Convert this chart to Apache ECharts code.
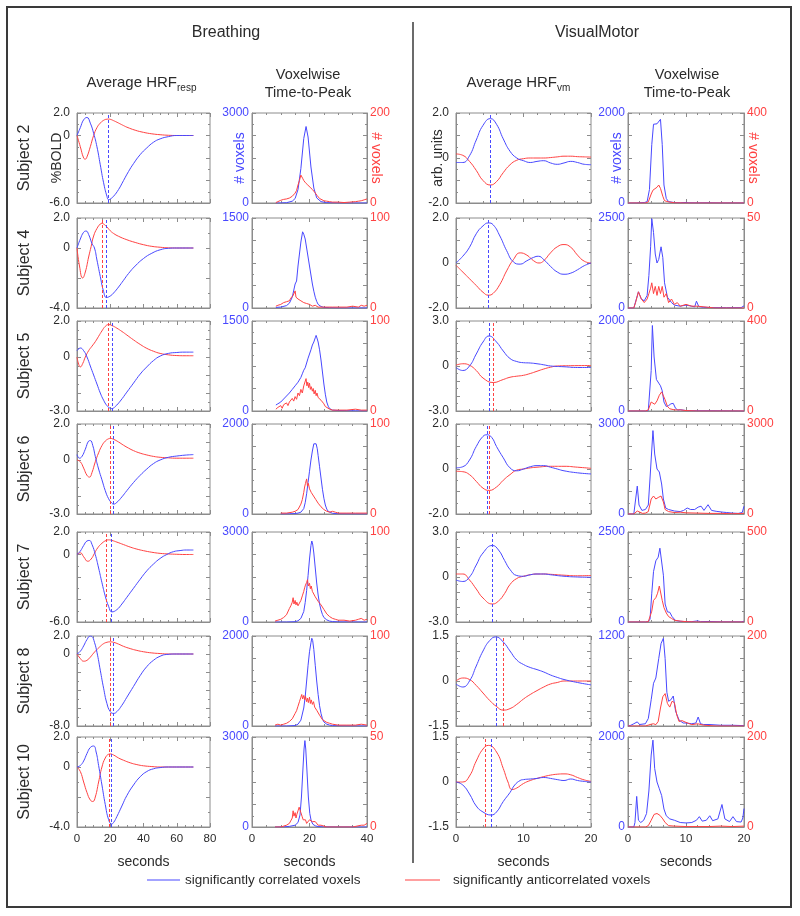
<!DOCTYPE html>
<html><head><meta charset="utf-8">
<script src="https://cdn.jsdelivr.net/npm/echarts@6/dist/echarts.min.js"></script>
<style>html,body{margin:0;padding:0;background:#fff}#c{width:800px;height:916px}</style>
</head><body><div id="c"></div><script>
// ---------- DATA ----------
const subjects = ['Subject 2','Subject 4','Subject 5','Subject 6','Subject 7','Subject 8','Subject 10'];
const xTicksResp = [0,20,40,60,80];
const xTicksTtpResp = [0,20,40];
const xTicksVm = [0,10,20];

// Breathing: Average HRF_resp (seconds, %BOLD)
const respBlue_S2 = [[0,0],[2,0.7],[4,1.4],[6,1.6],[8,1.1],[10,0.2],[12,-1.0],[14,-2.6],[16,-4.2],[18,-5.4],[19,-5.7],[20,-5.65],[22,-5.4],[25,-4.8],[28,-4.0],[31,-3.2],[34,-2.5],[38,-1.7],[42,-1.1],[46,-0.6],[50,-0.3],[55,-0.1],[60,0],[65,0],[70,0]];
const respRed_S2 = [[0,0],[2,-1.0],[4,-2.0],[5,-2.1],[6,-1.9],[8,-1.0],[10,0.0],[12,0.7],[14,1.1],[16,1.35],[18,1.45],[19,1.46],[20,1.44],[22,1.32],[24,1.18],[26,1.03],[28,0.88],[30,0.74],[35,0.47],[40,0.28],[45,0.15],[50,0.07],[55,0.02],[60,0],[65,0],[70,0]];
const respBlue_S4 = [[0,0],[2,0.6],[4,1.05],[5.5,1.13],[7,0.9],[9,0.3],[10.5,0],[12,-0.8],[14,-1.9],[16,-2.9],[17.7,-3.3],[20,-3.2],[22,-3.0],[25,-2.6],[28,-2.15],[31,-1.7],[35,-1.2],[40,-0.7],[45,-0.35],[50,-0.12],[55,-0.02],[60,0],[65,0],[70,0]];
const respRed_S4 = [[0,0],[1.5,-1.2],[3.4,-2.0],[5,-1.6],[7,-0.6],[8.5,0.1],[10,0.8],[12,1.3],[14,1.6],[15,1.65],[16,1.6],[18,1.4],[20,1.15],[22,0.97],[25,0.78],[30,0.55],[35,0.37],[40,0.22],[45,0.11],[50,0.05],[55,0.01],[60,0],[70,0]];
const respBlue_S5 = [[0,0.35],[2,0.5],[4,0.35],[6,0.0],[8,-0.5],[10,-1.0],[12,-1.5],[14,-2.0],[16,-2.4],[18,-2.7],[20,-2.85],[21,-2.87],[23,-2.75],[26,-2.45],[30,-1.95],[34,-1.45],[38,-0.95],[42,-0.55],[46,-0.2],[50,0.05],[55,0.2],[60,0.25],[65,0.27],[70,0.27]];
const respRed_S5 = [[0,0],[1,-0.4],[2,-0.55],[3.5,-0.35],[5,0.0],[7,0.35],[9,0.6],[11,0.85],[13,1.15],[15,1.45],[17,1.7],[19,1.8],[21,1.75],[24,1.6],[27,1.42],[30,1.22],[34,0.95],[38,0.7],[42,0.48],[46,0.32],[50,0.2],[55,0.12],[60,0.08],[65,0.07],[70,0.07]];
const respBlue_S6 = [[0,0.3],[1.5,0.1],[3,0.2],[5,0.6],[7,1.05],[8,1.08],[9.5,0.8],[11,0.2],[13,-0.5],[15,-1.1],[17,-1.7],[19,-2.15],[21,-2.4],[22,-2.45],[24,-2.35],[27,-2.05],[30,-1.7],[34,-1.25],[38,-0.85],[42,-0.5],[46,-0.2],[50,0.0],[55,0.15],[60,0.22],[65,0.27],[70,0.3]];
const respRed_S6 = [[0,0],[2,-0.1],[4,-0.45],[6,-0.85],[7.5,-0.95],[9,-0.7],[11,-0.1],[13,0.4],[15,0.8],[17,1.05],[19,1.18],[20,1.2],[22,1.15],[25,1.0],[28,0.82],[31,0.66],[34,0.52],[38,0.38],[42,0.28],[46,0.2],[50,0.15],[55,0.12],[60,0.1],[65,0.1],[70,0.1]];
const respBlue_S7 = [[0,0],[2,0.3],[4,0.8],[6,1.2],[7.4,1.25],[9,0.9],[11,0.0],[13,-1.2],[15,-2.5],[17,-3.7],[19,-4.6],[21,-5.1],[24,-4.9],[27,-4.4],[30,-3.8],[34,-3.0],[38,-2.2],[42,-1.45],[46,-0.85],[50,-0.35],[54,0.0],[58,0.25],[62,0.35],[66,0.4],[70,0.4]];
const respRed_S7 = [[0,0],[2,0.15],[4,-0.2],[6.5,-0.6],[8.5,-0.4],[10.5,0.1],[12.5,0.6],[15,1.0],[17.5,1.25],[19,1.3],[21,1.25],[24,1.1],[28,0.88],[32,0.66],[36,0.48],[40,0.34],[45,0.2],[50,0.1],[55,0.05],[60,0.02],[65,0],[70,0]];
const respBlue_S8 = [[0,0],[2,0.3],[4,0.9],[6,1.6],[8,2.0],[9,1.95],[10.5,1.3],[12,0.2],[14,-1.8],[16,-3.8],[18,-5.5],[20,-6.4],[22,-6.6],[24,-6.4],[27,-5.7],[30,-4.8],[34,-3.6],[38,-2.4],[42,-1.4],[46,-0.7],[50,-0.25],[54,-0.05],[60,0],[65,0],[70,0]];
const respRed_S8 = [[0,0],[2,-0.5],[4,-0.8],[6,-0.7],[8,-0.35],[10,0.1],[12,0.5],[14,0.85],[16,1.15],[18,1.3],[20,1.35],[22,1.3],[25,1.1],[28,0.85],[32,0.6],[36,0.4],[40,0.25],[45,0.12],[50,0.05],[55,0],[60,0],[70,0]];
const respBlue_S10 = [[0,0],[2,0.1],[4,0.4],[6,0.9],[8,1.3],[10,1.4],[11.5,1.0],[13,0.1],[15,-1.2],[17,-2.5],[19,-3.5],[20.8,-3.8],[22,-3.7],[24,-3.3],[27,-2.6],[30,-1.9],[34,-1.2],[38,-0.65],[42,-0.3],[46,-0.12],[50,-0.04],[55,0],[60,0],[70,0]];
const respRed_S10 = [[0,0],[2,-0.3],[4,-1.0],[6,-1.7],[8,-2.2],[9.5,-2.3],[11,-2.0],[13,-1.0],[15,0.0],[17,0.6],[19,0.85],[20,0.87],[22,0.8],[25,0.6],[28,0.45],[32,0.28],[36,0.16],[40,0.08],[45,0.03],[50,0],[60,0],[70,0]];

// Breathing: voxelwise time-to-peak (seconds, # voxels)
const respTtpBlue_S2 = [[8.3,0],[10,2],[12,10],[14,60],[15,150],[16,450],[17,1150],[18,2150],[18.8,2550],[19.5,2200],[20.5,1200],[21.5,500],[22.5,170],[24,45],[26,12],[30,2],[35,1],[40,1]];
const respTtpRed_S2 = [[8.3,1],[9,3],[10,6],[10.5,3],[11,8],[11.5,4],[12,9],[12.5,6],[13,11],[13.5,9],[14,15],[14.5,13],[15,22],[15.5,28],[16,40],[16.5,50],[17,62],[17.3,58],[17.6,55],[18,50],[18.3,52],[18.6,45],[19,47],[19.4,40],[19.8,42],[20.2,35],[20.6,37],[21,30],[21.4,31],[21.8,24],[22.2,22],[22.6,17],[23,14],[23.5,10],[24,8],[25,5],[26,4],[27,3],[28,2],[30,2],[32,1],[34,2],[36,3],[37,4],[38,5],[39,7],[40,9]];
const respTtpBlue_S4 = [[8.3,10],[10,15],[12,40],[13,80],[14,180],[15,400],[15.5,450],[16,700],[16.5,900],[17,1100],[17.6,1270],[18,1230],[18.5,1150],[19,1000],[19.5,850],[20,700],[20.5,550],[21,400],[21.5,280],[22,180],[22.5,110],[23,60],[24,25],[25,10],[27,5],[30,2],[35,1],[40,1]];
const respTtpRed_S4 = [[8.3,2],[9,3],[10,4],[11,6],[12,7],[12.5,9],[13,8],[13.5,11],[14,10],[14.3,14],[14.6,12],[15,19],[15.3,12],[15.6,14],[16,10],[16.5,11],[17,8],[17.5,7],[18,6],[18.5,5],[19,5],[19.5,3],[20,4],[21,2],[22,3],[23,1],[25,1],[28,1],[30,1],[33,1],[35,2],[37,1],[38,3],[39,2],[40,3]];
const respTtpBlue_S5 = [[8.3,100],[9,120],[10,150],[11,200],[12,250],[13,300],[14,360],[15,420],[16,480],[17,560],[17.5,620],[18,680],[18.5,720],[19,800],[19.5,880],[20,950],[20.5,1020],[21,1100],[21.5,1150],[22,1220],[22.3,1260],[22.7,1200],[23,1150],[23.5,1020],[24,850],[24.5,650],[25,450],[25.5,280],[26,150],[26.5,80],[27,40],[28,15],[30,8],[33,5],[36,3],[40,2]];
const respTtpRed_S5 = [[8.3,2],[9,4],[9.5,2],[10,6],[10.5,3],[11,7],[11.5,5],[12,9],[12.5,6],[13,10],[13.5,8],[14,14],[14.5,11],[15,16],[15.5,13],[16,20],[16.5,17],[17,24],[17.5,20],[18,28],[18.5,30],[18.8,36],[19.1,28],[19.4,32],[19.7,26],[20,31],[20.3,24],[20.6,27],[21,22],[21.3,25],[21.6,19],[22,23],[22.3,17],[22.6,20],[23,15],[23.5,16],[24,12],[24.5,10],[25,8],[25.5,5],[26,4],[27,2],[28,1],[30,1],[33,1],[36,2],[38,1],[40,1]];
const respTtpBlue_S6 = [[10,0],[13,5],[15,10],[16,20],[17,40],[18,120],[18.5,250],[19,450],[19.5,700],[20,950],[20.5,1200],[21,1400],[21.5,1560],[21.9,1580],[22.3,1560],[22.7,1450],[23,1300],[23.5,1050],[24,800],[24.5,550],[25,350],[25.5,200],[26,110],[26.5,60],[27,35],[28,15],[30,5],[35,2],[40,1]];
const respTtpRed_S6 = [[10,1],[12,1],[14,2],[15,3],[16,5],[16.5,7],[17,11],[17.5,16],[18,24],[18.3,30],[18.6,34],[19,39],[19.3,31],[19.6,34],[20,28],[20.3,30],[20.6,24],[21,25],[21.4,20],[21.8,21],[22.2,16],[22.6,15],[23,12],[23.5,10],[24,8],[24.5,6],[25,5],[26,3],[27,2],[28,3],[29,2],[30,1],[33,1],[36,1],[40,1]];
const respTtpBlue_S7 = [[8,0],[12,0],[15,10],[16,40],[17,120],[18,350],[18.5,650],[19,1050],[19.5,1550],[20,2100],[20.5,2550],[20.8,2700],[21.1,2600],[21.5,2300],[22,1800],[22.5,1300],[23,900],[23.5,600],[24,400],[24.5,250],[25,150],[26,70],[27,30],[28,15],[30,5],[35,2],[40,1]];
const respTtpRed_S7 = [[8,1],[9,2],[10,3],[10.5,2],[11,5],[11.5,4],[12,8],[12.5,10],[13,15],[13.5,18],[14,22],[14.3,27],[14.6,20],[15,24],[15.3,19],[15.6,22],[16,18],[16.5,21],[17,24],[17.5,29],[18,34],[18.3,38],[18.6,41],[19,44],[19.3,47],[19.6,40],[20,43],[20.3,37],[20.6,40],[21,34],[21.5,32],[22,28],[22.5,27],[23,23],[23.5,24],[24,19],[24.5,18],[25,14],[25.5,12],[26,9],[26.5,7],[27,6],[28,4],[29,3],[30,2],[32,2],[34,1],[36,2],[37,3],[38,4],[39,2],[40,3]];
const respTtpBlue_S8 = [[8,0],[12,0],[15,10],[16,40],[17,130],[18,400],[18.5,650],[19,1000],[19.5,1350],[20,1650],[20.5,1850],[20.8,1950],[21.1,1900],[21.5,1700],[22,1350],[22.5,1000],[23,700],[23.5,450],[24,280],[24.5,160],[25,90],[26,40],[27,20],[28,10],[30,5],[35,2],[40,1]];
const respTtpRed_S8 = [[8,1],[9,2],[10,1],[11,2],[12,3],[13,5],[14,8],[14.5,10],[15,14],[15.5,17],[16,22],[16.5,27],[17,32],[17.3,35],[17.6,30],[18,34],[18.3,29],[18.6,33],[19,27],[19.3,31],[19.6,26],[20,32],[20.3,25],[20.6,29],[21,24],[21.4,27],[21.8,21],[22.2,22],[22.6,17],[23,15],[23.5,12],[24,10],[24.5,7],[25,6],[26,4],[27,3],[28,2],[30,1],[33,1],[36,1],[38,2],[40,1]];
const respTtpBlue_S10 = [[8,0],[11,5],[13,20],[15,60],[16,150],[16.7,400],[17.2,1000],[17.7,1900],[18.1,2600],[18.4,2880],[18.7,2600],[19.1,1900],[19.6,1000],[20.1,450],[20.6,200],[21.2,90],[22,40],[23,15],[25,5],[30,2],[40,1]];
const respTtpRed_S10 = [[8,0],[10,0],[12,1],[13,2],[13.5,3],[14,5],[14.3,9],[14.6,6],[15,8],[15.3,5],[15.6,7],[16,9],[16.4,11],[16.7,12],[17,8],[17.4,6],[17.8,4],[18.2,3],[18.6,4],[19,2],[19.5,3],[20,4],[20.5,5],[21,3],[21.5,4],[22,3],[22.5,2],[23,1],[24,1],[26,0],[30,0],[35,0],[38,1],[39,1],[40,2]];

// VisualMotor: Average HRF_vm (seconds, arb. units)
const vmBlue_S2 = [[0,-0.2],[1,-0.2],[2,0.1],[3,0.8],[4,1.45],[5.1,1.75],[6,1.5],[7,0.85],[8,0.3],[9,0.0],[10,-0.12],[11,-0.2],[12,-0.15],[13,-0.12],[14,-0.22],[15,-0.28],[16,-0.22],[17,-0.15],[18,-0.2],[19,-0.28],[20,-0.3]];
const vmRed_S2 = [[0,0.18],[1,0.12],[2,-0.15],[3,-0.55],[4,-1.0],[5.1,-1.2],[6,-1.05],[7,-0.65],[8,-0.3],[9,-0.1],[10,-0.03],[11,0.0],[12,0.0],[13,0.0],[14,0.02],[15,0.05],[16,0.08],[17,0.08],[18,0.06],[19,0.05],[20,0.04]];
const vmBlue_S4 = [[0,0],[1,0.3],[2,0.7],[3,1.3],[4,1.65],[4.8,1.78],[5.5,1.7],[6.5,1.2],[7.5,0.55],[8.5,0.05],[9.5,-0.05],[10.5,0.1],[11.5,0.25],[12.2,0.3],[13,0.15],[14,-0.15],[15,-0.4],[16,-0.5],[17,-0.45],[18,-0.3],[19,-0.12],[20,0.0]];
const vmRed_S4 = [[0,-0.1],[1,-0.4],[2,-0.7],[3,-1.0],[4,-1.3],[4.8,-1.43],[5.5,-1.35],[6.5,-0.95],[7.5,-0.35],[8.5,0.15],[9.5,0.45],[10.5,0.35],[11.5,0.1],[12.3,0.0],[13,0.1],[14,0.45],[15,0.72],[16,0.82],[17,0.7],[18,0.35],[19,0.08],[20,0.0]];
const vmBlue_S5 = [[0,-0.1],[1,-0.3],[2,0.0],[3,0.8],[4,1.6],[4.9,2.0],[6,1.6],[7,1.0],[8,0.5],[9,0.3],[10,0.22],[11,0.2],[12,0.15],[13,0.08],[14,0.0],[16,-0.05],[18,-0.1],[20,-0.1]];
const vmRed_S5 = [[0,0.05],[1,0.15],[2,0.05],[3,-0.3],[4,-0.8],[5.5,-1.1],[7,-0.9],[8,-0.75],[9,-0.68],[10,-0.62],[11,-0.5],[12,-0.35],[13,-0.2],[14,-0.08],[15,0.0],[17,0.02],[20,0.03]];
const vmBlue_S6 = [[0,0.05],[1,0.1],[2,0.4],[3,1.0],[4,1.45],[4.6,1.52],[5.3,1.4],[6,1.0],[7,0.5],[8,0.05],[9,-0.08],[10,0.0],[11,0.1],[12,0.15],[13,0.15],[14,0.08],[15,0.0],[16,-0.08],[18,-0.17],[20,-0.22]];
const vmRed_S6 = [[0,-0.1],[1,-0.12],[2,-0.25],[3,-0.55],[4,-0.85],[4.9,-0.95],[6,-0.8],[7,-0.5],[8,-0.25],[9,-0.05],[10,0.0],[11,0.05],[12,0.08],[14,0.12],[16,0.12],[18,0.08],[20,0.03]];
const vmBlue_S7 = [[0,-0.2],[1,-0.3],[2,0.0],[3,0.8],[4,1.6],[5.4,2.1],[6.3,1.8],[7.2,1.1],[8,0.5],[9,0.1],[10,0.05],[11,0.15],[12,0.2],[13,0.2],[14,0.15],[16,0.05],[18,0.0],[20,-0.02]];
const vmRed_S7 = [[0,0.2],[1,0.2],[2,-0.2],[3,-0.8],[4,-1.4],[5.4,-1.8],[6.3,-1.6],[7.2,-1.1],[8,-0.5],[9,-0.1],[10,0.05],[11,0.15],[12,0.2],[13,0.2],[14,0.18],[16,0.12],[18,0.08],[20,0.1]];
const vmBlue_S8 = [[0,-0.1],[1,-0.2],[2,0.0],[3,0.5],[4,1.0],[5,1.35],[5.9,1.47],[7,1.3],[8,1.0],[9,0.7],[10,0.55],[11,0.45],[12,0.38],[13,0.3],[14,0.2],[15,0.12],[16,0.05],[18,-0.05],[20,-0.13]];
const vmRed_S8 = [[0,0.0],[1,0.1],[2,0.05],[3,-0.15],[4,-0.4],[5,-0.65],[6,-0.85],[7,-0.97],[8,-0.92],[9,-0.78],[10,-0.6],[11,-0.45],[12,-0.32],[13,-0.2],[14,-0.1],[15,-0.05],[16,0.0],[18,0.0],[20,0.0]];
const vmBlue_S10 = [[0,0.0],[1,-0.1],[2,-0.4],[3,-0.8],[4,-1.0],[5.2,-1.1],[6,-1.0],[7,-0.65],[8,-0.35],[8.7,-0.1],[9.5,0.05],[10,0.08],[11,0.1],[12,0.12],[13,0.15],[14,0.12],[15,0.08],[16,0.05],[17,0.1],[18,0.05],[19,0.02],[20,0.0]];
const vmRed_S10 = [[0,0.0],[1,0.0],[2,0.2],[3,0.7],[4,1.1],[4.8,1.22],[6,1.0],[7,0.45],[7.7,0.0],[8.3,-0.25],[9,-0.2],[10,-0.05],[11,0.05],[12,0.12],[13,0.18],[14,0.23],[15,0.26],[16,0.27],[17,0.24],[18,0.15],[19,0.07],[20,0.02]];

// VisualMotor: voxelwise time-to-peak
const vmTtpBlue_S2 = [[0,0],[1.5,0],[2,5],[2.3,20],[2.8,10],[3.3,30],[3.7,300],[4.1,1300],[4.4,1750],[4.7,1720],[5.0,1760],[5.3,1740],[5.6,1860],[5.9,1300],[6.2,400],[6.6,100],[7,30],[8,10],[9,5],[10,12],[10.5,5],[12,3],[14,5],[16,2],[18,2],[20,2]];
const vmTtpRed_S2 = [[0,0],[3,0],[3.5,5],[4,40],[4.3,57],[4.6,50],[5.0,70],[5.3,80],[5.6,65],[6,30],[6.3,10],[7,5],[8,1],[10,0],[20,0]];
const vmTtpBlue_S4 = [[0,0],[1,0],[1.3,50],[1.8,450],[2.3,250],[2.8,200],[3.3,350],[3.6,900],[3.9,1700],[4.1,2480],[4.4,2100],[4.7,1500],[5.0,1250],[5.3,1350],[5.7,1700],[6.0,1400],[6.3,700],[6.8,300],[7.5,150],[8,80],[9,50],[10,80],[11,50],[11.5,30],[11.8,190],[12.2,40],[13,20],[15,10],[17,8],[19.5,10],[20,60]];
const vmTtpRed_S4 = [[0,0],[1,0],[1.3,3],[1.8,9],[2.3,5],[2.8,3],[3.3,5],[3.6,8],[3.9,11],[4.1,14],[4.4,8],[4.7,12],[5.0,7],[5.3,12],[5.6,8],[5.9,12],[6.2,6],[6.6,8],[7,3],[7.5,5],[8,2],[8.5,3],[9,1],[10,2],[11,1],[12,1],[15,0],[20,0]];
const vmTtpBlue_S5 = [[0,0],[3,0],[3.5,10],[3.8,50],[4.0,900],[4.2,1900],[4.5,1200],[4.9,700],[5.3,620],[5.6,560],[5.9,450],[6.2,200],[6.6,100],[7.0,120],[7.4,160],[7.8,170],[8.2,60],[8.6,20],[9,30],[10,10],[12,5],[15,5],[20,0]];
const vmTtpRed_S5 = [[0,0],[3,0],[3.5,5],[4.0,40],[4.3,35],[4.6,30],[5.0,45],[5.4,70],[5.8,85],[6.1,80],[6.4,50],[6.8,20],[7.2,10],[8,5],[9,5],[10,2],[12,0],[20,0]];
const vmTtpBlue_S6 = [[0,0],[1,0],[1.3,50],[1.6,930],[1.9,300],[2.4,120],[3,150],[3.5,300],[3.8,1200],[4.3,2780],[4.6,2000],[5.0,1500],[5.4,1400],[5.8,1000],[6.1,500],[6.5,200],[7,150],[8,100],[9,80],[9.6,120],[10.2,200],[10.8,150],[11.5,150],[12.1,230],[12.6,260],[13.1,120],[13.8,310],[14.4,120],[15.2,90],[16.4,60],[17,50],[18,30],[19,20],[19.7,50],[20,260]];
const vmTtpRed_S6 = [[0,0],[1,0],[1.3,20],[1.6,100],[1.9,50],[2.5,20],[3,30],[3.5,80],[4.0,500],[4.4,600],[4.8,500],[5.2,550],[5.7,600],[6.1,400],[6.4,150],[7,80],[8,50],[9,60],[10,40],[12,30],[14,20],[16,20],[18,10],[20,20]];
const vmTtpBlue_S7 = [[0,0],[3,0],[3.5,10],[3.8,80],[4.1,800],[4.4,1400],[4.8,1700],[5.2,1800],[5.5,2050],[5.8,2100],[6.1,1300],[6.4,500],[6.8,280],[7.2,270],[7.6,150],[8.2,40],[9,20],[10,10],[11,10],[12,30],[12.5,10],[14,15],[16,5],[18,5],[19.5,5],[20,20]];
const vmTtpRed_S7 = [[0,0],[3,0],[3.5,2],[3.8,10],[4.1,60],[4.4,120],[4.8,135],[5.1,160],[5.4,200],[5.6,210],[5.9,120],[6.2,80],[6.6,50],[7.0,30],[7.5,20],[8,10],[9,5],[10,2],[12,0],[20,0]];
const vmTtpBlue_S8 = [[0,0],[0.5,10],[1.0,30],[1.6,55],[2,20],[3,30],[3.5,100],[4.0,350],[4.4,570],[4.8,640],[5.3,900],[5.7,1100],[6.1,1170],[6.4,900],[6.7,450],[7.0,330],[7.4,350],[7.8,400],[8.2,200],[8.8,80],[9.5,40],[10,40],[11,30],[11.7,40],[12.1,120],[12.5,30],[13,20],[14,20],[15,15],[16,10],[18,10],[20,5]];
const vmTtpRed_S8 = [[0,0],[3,0],[3.5,2],[4.0,4],[4.4,5],[4.8,3],[5.2,10],[5.6,40],[6.0,65],[6.4,72],[6.8,50],[7.2,42],[7.6,55],[8.0,52],[8.4,25],[8.8,10],[9.3,12],[10,8],[11,3],[12,5],[13,2],[15,0],[20,0]];
const vmTtpBlue_S10 = [[0,0],[1.0,0],[1.2,100],[1.5,680],[1.8,150],[2.2,100],[2.7,150],[3.2,300],[3.6,800],[4.0,1600],[4.3,1930],[4.6,1300],[5.0,1000],[5.4,850],[5.8,700],[6.2,400],[6.6,250],[7.2,180],[8,150],[9,100],[10,90],[11,100],[11.8,150],[12.3,230],[12.8,130],[13.5,150],[14.1,250],[14.6,140],[15.5,180],[16.2,500],[16.7,180],[17.5,120],[18.1,230],[18.7,120],[19.5,110],[19.8,200],[20,410]];
const vmTtpRed_S10 = [[0,0],[3,0],[3.5,3],[4.0,15],[4.5,28],[5.0,30],[5.5,26],[6.0,18],[6.4,10],[7,3],[8,2],[10,1],[14,1],[16,2],[18,1],[20,2]];

// axis ranges and peak (dashed line) times, per subject row
const respRange = [[-6,2],[-4,2],[-3,2],[-3,2],[-6,2],[-8,2],[-4,2]];
const respStep = [2,2,1,1,2,2,2];
const vmRange = [[-2,2],[-2,2],[-3,3],[-2,2],[-3,3],[-1.5,1.5],[-1.5,1.5]];
const vmStep = [1,1,1,1,1,0.5,0.5];
const respTtpMax = [[3000,200],[1500,100],[1500,100],[2000,100],[3000,100],[2000,100],[3000,50]];
const vmTtpMax = [[2000,400],[2500,50],[2000,400],[3000,3000],[2500,500],[1200,200],[2000,200]];
const respPeakRed = [19,15,19,20,17.5,19.9,19.5];
const respPeakBlue = [19,17.7,21,22,20.8,22,20.8];
const vmPeakRed = [5.1,4.8,5.5,4.9,5.4,7.0,4.4];
const vmPeakBlue = [5.1,4.8,4.9,4.6,5.4,5.9,5.2];

const respBlue = [respBlue_S2,respBlue_S4,respBlue_S5,respBlue_S6,respBlue_S7,respBlue_S8,respBlue_S10];
const respRed = [respRed_S2,respRed_S4,respRed_S5,respRed_S6,respRed_S7,respRed_S8,respRed_S10];
const respTtpBlue = [respTtpBlue_S2,respTtpBlue_S4,respTtpBlue_S5,respTtpBlue_S6,respTtpBlue_S7,respTtpBlue_S8,respTtpBlue_S10];
const respTtpRed = [respTtpRed_S2,respTtpRed_S4,respTtpRed_S5,respTtpRed_S6,respTtpRed_S7,respTtpRed_S8,respTtpRed_S10];
const vmBlue = [vmBlue_S2,vmBlue_S4,vmBlue_S5,vmBlue_S6,vmBlue_S7,vmBlue_S8,vmBlue_S10];
const vmRed = [vmRed_S2,vmRed_S4,vmRed_S5,vmRed_S6,vmRed_S7,vmRed_S8,vmRed_S10];
const vmTtpBlue = [vmTtpBlue_S2,vmTtpBlue_S4,vmTtpBlue_S5,vmTtpBlue_S6,vmTtpBlue_S7,vmTtpBlue_S8,vmTtpBlue_S10];
const vmTtpRed = [vmTtpRed_S2,vmTtpRed_S4,vmTtpRed_S5,vmTtpRed_S6,vmTtpRed_S7,vmTtpRed_S8,vmTtpRed_S10];

const NAME_B = 'significantly correlated voxels';
const NAME_R = 'significantly anticorrelated voxels';

// ---------- LAYOUT / STYLE ----------
const FONT = '"Liberation Sans", Arial, sans-serif';
const GRAY = '#8c8c8c';
const TXT = '#2b2b2b';
const BLUE = '#4848ff';
const RED = '#ff4242';
const COLS = [
  {l:77, w:133, xmax:80, xint:20, minor:4, ticks:xTicksResp},
  {l:252, w:115, xmax:40, xint:20, minor:4, ticks:xTicksTtpResp},
  {l:456, w:135, xmax:20, xint:10, minor:5, ticks:xTicksVm},
  {l:628, w:116, xmax:20, xint:10, minor:5, ticks:xTicksVm}
];
const TOPS = [113,218,321,424,532,636,737];
const H = 90;

const grids = [], xAxes = [], yAxes = [], series = [];
const tickStyle = {show:true, inside:true, length:4, lineStyle:{color:GRAY, width:1}};
function minorStyle(n){return {show:true, splitNumber:n, length:2, lineStyle:{color:GRAY, width:1}};}
function hrfFmt(min,max){return v=>{if(Math.abs(v)<1e-9)return '0';if(Math.abs(v-min)<1e-9||Math.abs(v-max)<1e-9)return v.toFixed(1);return '';};}
function cntFmt(max){return v=>(Math.abs(v)<1e-9?'0':(Math.abs(v-max)<1e-9?String(max):''));}
const axLine = {show:true, onZero:false, lineStyle:{color:GRAY}};

function addPanel(c, r) {
  const i = grids.length, C = COLS[c], last = (r === 6), first = (r === 0);
  grids.push({left:C.l, top:TOPS[r], width:C.w, height:H, show:true, borderColor:GRAY, borderWidth:1});
  xAxes.push({type:'value', gridIndex:i, min:0, max:C.xmax, interval:C.xint,
    axisLine:axLine, axisTick:tickStyle, minorTick:minorStyle(C.minor), splitLine:{show:false},
    axisLabel:{show:last, color:TXT, fontSize:11.5, fontFamily:FONT, margin:6,
      formatter:v=>(C.ticks.indexOf(v)>=0?String(v):'')},
    name:last?'seconds':'', nameLocation:'middle', nameGap:28, nameMoveOverlap:false,
    nameTextStyle:{color:TXT, fontSize:14, fontFamily:FONT}});
  xAxes.push({type:'value', gridIndex:i, position:'top', min:0, max:C.xmax, interval:C.xint,
    axisLine:{show:false, onZero:false}, axisTick:tickStyle, minorTick:minorStyle(C.minor), splitLine:{show:false}, axisLabel:{show:false}});
  const hrf = (c === 0 || c === 2);
  if (hrf) {
    const rg = c === 0 ? respRange[r] : vmRange[r];
    const st = c === 0 ? respStep[r] : vmStep[r];
    yAxes.push({type:'value', gridIndex:i, min:rg[0], max:rg[1], interval:st,
      axisLine:axLine, axisTick:tickStyle, minorTick:minorStyle(2), splitLine:{show:false},
      axisLabel:{color:TXT, fontSize:12, fontFamily:FONT, margin:7, formatter:hrfFmt(rg[0],rg[1])},
      name:first?(c===0?'%BOLD':'arb. units'):'', nameLocation:'middle', nameRotate:90, nameGap:c===0?13:11, nameMoveOverlap:false,
      nameTextStyle:{color:TXT, fontSize:14, fontFamily:FONT}});
    yAxes.push({type:'value', gridIndex:i, position:'right', min:rg[0], max:rg[1], interval:st,
      axisLine:{show:false, onZero:false}, axisTick:tickStyle, minorTick:minorStyle(2), splitLine:{show:false}, axisLabel:{show:false}});
    const bData = c === 0 ? respBlue[r] : vmBlue[r];
    const rData = c === 0 ? respRed[r] : vmRed[r];
    const pb = c === 0 ? respPeakBlue[r] : vmPeakBlue[r];
    const pr = c === 0 ? respPeakRed[r] : vmPeakRed[r];
    series.push({type:'line', name:NAME_R, xAxisIndex:2*i, yAxisIndex:2*i, data:rData, smooth:0.5,
      showSymbol:false, lineStyle:{color:RED, width:1}, itemStyle:{color:RED},
      markLine:{silent:true, symbol:'none', label:{show:false}, lineStyle:{color:RED, type:[3,2], width:1}, data:[{xAxis:pr}]}});
    series.push({type:'line', name:NAME_B, xAxisIndex:2*i, yAxisIndex:2*i, data:bData, smooth:0.5,
      showSymbol:false, lineStyle:{color:BLUE, width:1}, itemStyle:{color:BLUE},
      markLine:{silent:true, symbol:'none', label:{show:false}, lineStyle:{color:BLUE, type:[3,2], width:1}, data:[{xAxis:pb}]}});
  } else {
    const mx = c === 1 ? respTtpMax[r] : vmTtpMax[r];
    yAxes.push({type:'value', gridIndex:i, min:0, max:mx[0], interval:mx[0]/4,
      axisLine:axLine, axisTick:tickStyle, minorTick:minorStyle(2), splitLine:{show:false},
      axisLabel:{color:BLUE, fontSize:12, fontFamily:FONT, margin:3, formatter:cntFmt(mx[0])},
      name:first?'# voxels':'', nameLocation:'middle', nameRotate:90, nameGap:c===1?5:4, nameMoveOverlap:false,
      nameTextStyle:{color:BLUE, fontSize:14, fontFamily:FONT}});
    yAxes.push({type:'value', gridIndex:i, position:'right', min:0, max:mx[1], interval:mx[1]/4,
      axisLine:axLine, axisTick:tickStyle, minorTick:minorStyle(2), splitLine:{show:false},
      axisLabel:{color:RED, fontSize:12, fontFamily:FONT, margin:3, formatter:cntFmt(mx[1])},
      name:first?'# voxels':'', nameLocation:'middle', nameRotate:-90, nameGap:2, nameMoveOverlap:false,
      nameTextStyle:{color:RED, fontSize:14, fontFamily:FONT}});
    const bData = c === 1 ? respTtpBlue[r] : vmTtpBlue[r];
    const rData = c === 1 ? respTtpRed[r] : vmTtpRed[r];
    series.push({type:'line', name:NAME_B, xAxisIndex:2*i, yAxisIndex:2*i, data:bData,
      showSymbol:false, lineStyle:{color:BLUE, width:1}, itemStyle:{color:BLUE}});
    series.push({type:'line', name:NAME_R, xAxisIndex:2*i, yAxisIndex:2*i+1, data:rData,
      showSymbol:false, lineStyle:{color:RED, width:1}, itemStyle:{color:RED}});
  }
}
for (let r = 0; r < 7; r++) for (let c = 0; c < 4; c++) addPanel(c, r);

const graphics = [
  {type:'rect', shape:{x:7, y:7, width:784, height:900}, style:{fill:'none', stroke:'#3a3a3a', lineWidth:2}},
  {type:'line', shape:{x1:413, y1:22, x2:413, y2:863}, style:{stroke:'#3a3a3a', lineWidth:1.5}},
  {type:'text', x:226, y:33, style:{text:'Breathing', fontSize:16, fontFamily:FONT, fill:TXT, align:'center', verticalAlign:'middle'}},
  {type:'text', x:597, y:33, style:{text:'VisualMotor', fontSize:16, fontFamily:FONT, fill:TXT, align:'center', verticalAlign:'middle'}},
  {type:'text', x:177, y:83, style:{text:'Average HRF', fontSize:15, fontFamily:FONT, fill:TXT, align:'right', verticalAlign:'middle'}},
  {type:'text', x:177, y:88.5, style:{text:'resp', fontSize:10, fontFamily:FONT, fill:TXT, align:'left', verticalAlign:'middle'}},
  {type:'text', x:557, y:83, style:{text:'Average HRF', fontSize:15, fontFamily:FONT, fill:TXT, align:'right', verticalAlign:'middle'}},
  {type:'text', x:557, y:88.5, style:{text:'vm', fontSize:10, fontFamily:FONT, fill:TXT, align:'left', verticalAlign:'middle'}},
  {type:'text', x:308, y:75, style:{text:'Voxelwise', fontSize:14.5, fontFamily:FONT, fill:TXT, align:'center', verticalAlign:'middle'}},
  {type:'text', x:308, y:93, style:{text:'Time-to-Peak', fontSize:14.5, fontFamily:FONT, fill:TXT, align:'center', verticalAlign:'middle'}},
  {type:'text', x:687, y:75, style:{text:'Voxelwise', fontSize:14.5, fontFamily:FONT, fill:TXT, align:'center', verticalAlign:'middle'}},
  {type:'text', x:687, y:93, style:{text:'Time-to-Peak', fontSize:14.5, fontFamily:FONT, fill:TXT, align:'center', verticalAlign:'middle'}}
];
subjects.forEach((s, r) => {
  graphics.push({type:'text', x:25, y:TOPS[r] + H/2, rotation:Math.PI/2,
    style:{text:s, fontSize:16, fontFamily:FONT, fill:TXT, align:'center', verticalAlign:'middle'}});
});

const chart = echarts.init(document.getElementById('c'));
chart.setOption({
  animation:false,
  backgroundColor:'#fff',
  grid:grids, xAxis:xAxes, yAxis:yAxes, series:series,
  legend:[
    {data:[NAME_B], left:147, top:873, icon:'rect', itemWidth:33, itemHeight:1, itemGap:0, selectedMode:false,
      textStyle:{color:TXT, fontSize:13.5, fontFamily:FONT}, padding:0},
    {data:[NAME_R], left:405, top:873, icon:'rect', itemWidth:35, itemHeight:1, itemGap:0, selectedMode:false,
      textStyle:{color:TXT, fontSize:13.5, fontFamily:FONT, padding:[0,0,0,8]}, padding:0}
  ],
  graphic:graphics
});
</script></body></html>
